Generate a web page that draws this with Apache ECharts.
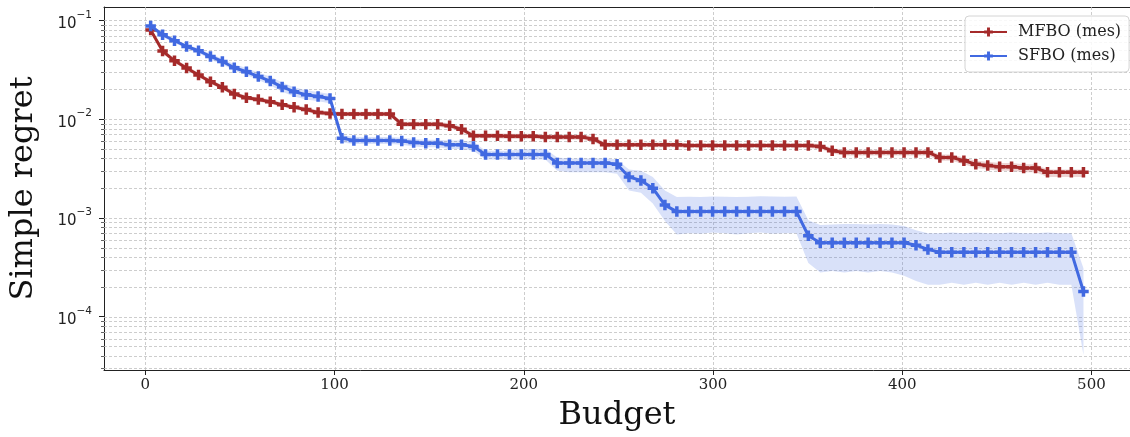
<!DOCTYPE html>
<html><head><meta charset="utf-8">
<script src="https://cdn.jsdelivr.net/npm/echarts@6/dist/echarts.min.js"></script>
<style>html,body{margin:0;padding:0;background:#fff}#c{width:1130px;height:437px}</style>
</head><body><div id="c"></div>
<script>
// ---- data ----
const budget = [2.8, 9.1, 15.4, 21.8, 28.1, 34.4, 40.7, 47.0, 53.4, 59.7,
  66.0, 72.3, 78.6, 85.0, 91.3, 97.6, 103.9, 110.2, 116.6, 122.9,
  129.2, 135.5, 141.8, 148.2, 154.5, 160.8, 167.1, 173.4, 179.8, 186.1,
  192.4, 198.7, 205.0, 211.4, 217.7, 224.0, 230.3, 236.6, 243.0, 249.3,
  255.6, 261.9, 268.2, 274.6, 280.9, 287.2, 293.5, 299.8, 306.2, 312.5,
  318.8, 325.1, 331.4, 337.8, 344.1, 350.4, 356.7, 363.0, 369.4, 375.7,
  382.0, 388.3, 394.6, 401.0, 407.3, 413.6, 419.9, 426.2, 432.6, 438.9,
  445.2, 451.5, 457.8, 464.2, 470.5, 476.8, 483.1, 489.4, 495.8];

const mfboMean = [0.080, 0.049, 0.039, 0.033, 0.028, 0.024, 0.021, 0.018, 0.0165, 0.0158,
  0.0150, 0.0140, 0.0132, 0.0125, 0.0117, 0.0114, 0.0113, 0.0113, 0.0113, 0.0113,
  0.0113, 0.0089, 0.0089, 0.0089, 0.0089, 0.0086, 0.0079, 0.0068, 0.0068, 0.0068,
  0.0067, 0.0067, 0.0067, 0.0066, 0.0066, 0.0066, 0.0066, 0.0063, 0.0055, 0.0055,
  0.0055, 0.0055, 0.0055, 0.0055, 0.0055, 0.0054, 0.0054, 0.0054, 0.0054, 0.0054,
  0.0054, 0.0054, 0.0054, 0.0054, 0.0054, 0.0054, 0.0053, 0.0048, 0.0046, 0.0046,
  0.0046, 0.0046, 0.0046, 0.0046, 0.0046, 0.0046, 0.0041, 0.0041, 0.0038, 0.0035,
  0.0034, 0.0033, 0.0033, 0.0032, 0.0032, 0.0029, 0.0029, 0.0029, 0.0029];
const mfboLow = [0.076, 0.0467, 0.0371, 0.0314, 0.0267, 0.0229, 0.0200, 0.0171, 0.0157, 0.0150,
  0.0143, 0.0133, 0.0126, 0.0119, 0.0111, 0.0108, 0.0107, 0.0107, 0.0107, 0.0107,
  0.0107, 0.0084, 0.0084, 0.0084, 0.0084, 0.0081, 0.0075, 0.0064, 0.0064, 0.0064,
  0.0063, 0.0063, 0.0063, 0.0062, 0.0062, 0.0062, 0.0062, 0.0059, 0.0052, 0.0052,
  0.0052, 0.0052, 0.0052, 0.0052, 0.0052, 0.0051, 0.0051, 0.0051, 0.0051, 0.0051,
  0.0051, 0.0051, 0.0051, 0.0051, 0.0051, 0.0051, 0.0050, 0.0045, 0.0043, 0.0043,
  0.0043, 0.0043, 0.0043, 0.0043, 0.0043, 0.0043, 0.0038, 0.0038, 0.0035, 0.0032,
  0.0031, 0.0030, 0.0030, 0.0029, 0.0029, 0.0026, 0.0026, 0.0026, 0.0026];
const mfboHigh = [0.084, 0.0515, 0.0410, 0.0347, 0.0294, 0.0252, 0.0221, 0.0189, 0.0174, 0.0166,
  0.0158, 0.0147, 0.0139, 0.0132, 0.0123, 0.0120, 0.0119, 0.0119, 0.0119, 0.0119,
  0.0119, 0.0094, 0.0094, 0.0094, 0.0094, 0.0091, 0.0084, 0.0072, 0.0072, 0.0072,
  0.0071, 0.0071, 0.0071, 0.0070, 0.0070, 0.0070, 0.0070, 0.0067, 0.0058, 0.0058,
  0.0058, 0.0058, 0.0058, 0.0058, 0.0058, 0.0057, 0.0057, 0.0057, 0.0057, 0.0057,
  0.0057, 0.0057, 0.0057, 0.0057, 0.0057, 0.0057, 0.0056, 0.0051, 0.0049, 0.0049,
  0.0049, 0.0049, 0.0049, 0.0049, 0.0049, 0.0049, 0.0044, 0.0044, 0.0041, 0.0038,
  0.0037, 0.0036, 0.0036, 0.0035, 0.0035, 0.0031, 0.0031, 0.0031, 0.0031];

const sfboMean = [0.0877, 0.0716, 0.0623, 0.0545, 0.0493, 0.0432, 0.0384, 0.0332, 0.0302, 0.0271,
  0.0243, 0.0212, 0.0190, 0.0177, 0.0170, 0.0162, 0.0064, 0.0061, 0.0061, 0.0061,
  0.0061, 0.0060, 0.0058, 0.0057, 0.0057, 0.0055, 0.0055, 0.0053, 0.0044, 0.0044,
  0.0044, 0.0044, 0.0044, 0.0044, 0.0036, 0.0036, 0.0036, 0.0036, 0.0036, 0.0035,
  0.0026, 0.0024, 0.0020, 0.00135, 0.00116, 0.00116, 0.00116, 0.00116, 0.00116, 0.00116,
  0.00116, 0.00116, 0.00116, 0.00116, 0.00116, 0.00066, 0.00056, 0.00056, 0.00056, 0.00056,
  0.00056, 0.00056, 0.00056, 0.00056, 0.00053, 0.00048, 0.00045, 0.00045, 0.00045, 0.00045,
  0.00045, 0.00045, 0.00045, 0.00045, 0.00045, 0.00045, 0.00045, 0.00045, 0.00018];
const sfboLow = [0.084, 0.068, 0.059, 0.052, 0.047, 0.040, 0.036, 0.031, 0.028, 0.025,
  0.022, 0.019, 0.017, 0.0158, 0.0152, 0.0145, 0.0058, 0.0056, 0.0056, 0.0056,
  0.0056, 0.0055, 0.0053, 0.0052, 0.0052, 0.0050, 0.0050, 0.0048, 0.0039, 0.0039,
  0.0039, 0.0039, 0.0039, 0.0039, 0.0030, 0.0029, 0.0029, 0.0029, 0.0029, 0.0028,
  0.0019, 0.0018, 0.0014, 0.00093, 0.00068, 0.00070, 0.00069, 0.00071, 0.00070, 0.00068,
  0.00070, 0.00071, 0.00069, 0.00070, 0.00070, 0.00035, 0.00028, 0.00029, 0.00028, 0.00029,
  0.00028, 0.00029, 0.00028, 0.00026, 0.00023, 0.00021, 0.00021, 0.00022, 0.00021, 0.00022,
  0.00021, 0.00022, 0.00021, 0.00022, 0.00021, 0.00022, 0.00021, 0.00021, 0.000041];
const sfboHigh = [0.092, 0.075, 0.065, 0.057, 0.052, 0.046, 0.041, 0.036, 0.033, 0.0295,
  0.027, 0.0235, 0.021, 0.0196, 0.0188, 0.0180, 0.0069, 0.0066, 0.0066, 0.0066,
  0.0066, 0.0065, 0.0063, 0.0062, 0.0062, 0.0061, 0.0061, 0.0059, 0.0048, 0.0048,
  0.0048, 0.0050, 0.0050, 0.0050, 0.0041, 0.0040, 0.0040, 0.0040, 0.0040, 0.0039,
  0.0031, 0.0030, 0.0026, 0.0019, 0.00163, 0.00164, 0.00163, 0.00165, 0.00164, 0.00163,
  0.00164, 0.00166, 0.00165, 0.00164, 0.00165, 0.00095, 0.00085, 0.00086, 0.00087, 0.00087,
  0.00086, 0.00087, 0.00086, 0.00083, 0.00075, 0.00070, 0.00070, 0.00071, 0.00070, 0.00071,
  0.00070, 0.00070, 0.00071, 0.00070, 0.00070, 0.00071, 0.00070, 0.00070, 0.00031];

const seriesNames = ['MFBO (mes)', 'SFBO (mes)'];
const xTicks = [0, 100, 200, 300, 400, 500];
const yMajorTicks = [1e-4, 1e-3, 1e-2, 1e-1];
const yTickExponents = ['\u22124', '\u22123', '\u22122', '\u22121'];
const yMinorTicks = [3e-5, 4e-5, 5e-5, 6e-5, 7e-5, 8e-5, 9e-5,
  2e-4, 3e-4, 4e-4, 5e-4, 6e-4, 7e-4, 8e-4, 9e-4,
  2e-3, 3e-3, 4e-3, 5e-3, 6e-3, 7e-3, 8e-3, 9e-3,
  2e-2, 3e-2, 4e-2, 5e-2, 6e-2, 7e-2, 8e-2, 9e-2];
const xRange = [-21.86, 520.4];
const yRange = [2.884e-5, 0.1368];

// ---- styling ----
const RED = '#a52a2a', BLUE = '#4169e1';
const SERIF = '"DejaVu Serif", serif';
const SANS = '"DejaVu Sans", sans-serif';
const AXIS_COLOR = '#222';
const plusPath = 'path://M3,0H6V3H9V6H6V9H3V6H0V3H3Z';

const chart = echarts.init(document.getElementById('c'), null, {renderer: 'canvas'});

function gridSeries() {
  return {
    type: 'custom', z: 1, silent: true, clip: false,
    data: [[xTicks[0], yMajorTicks[0]]],
    renderItem(params, api) {
      const cs = params.coordSys;
      const kids = [];
      const gstyle = {stroke: '#c0c0c0', lineWidth: 0.8, lineDash: [3, 2]};
      xTicks.forEach(t => {
        const x = Math.round(api.coord([t, yRange[0]])[0]) + 0.5;
        kids.push({type: 'line', shape: {x1: x, y1: cs.y, x2: x, y2: cs.y + cs.height}, style: gstyle});
      });
      yMajorTicks.concat(yMinorTicks).forEach(v => {
        const y = Math.round(api.coord([xRange[0], v])[1]) + 0.5;
        kids.push({type: 'line', shape: {x1: cs.x, y1: y, x2: cs.x + cs.width, y2: y}, style: gstyle});
      });
      yMinorTicks.forEach(v => {
        const y = Math.round(api.coord([xRange[0], v])[1]) + 0.5;
        kids.push({type: 'line', shape: {x1: cs.x - 3, y1: y, x2: cs.x, y2: y}, style: {stroke: AXIS_COLOR, lineWidth: 0.7}});
      });
      return {type: 'group', children: kids};
    }
  };
}

function bandSeries(lo, hi, color) {
  return {
    type: 'custom', z: 2, silent: true,
    data: [[budget[0], lo[0]]],
    renderItem(params, api) {
      const pts = [];
      for (let i = 0; i < budget.length; i++) pts.push(api.coord([budget[i], hi[i]]));
      for (let i = budget.length - 1; i >= 0; i--) pts.push(api.coord([budget[i], lo[i]]));
      return {type: 'polygon', shape: {points: pts}, style: {fill: color}};
    }
  };
}

function lineSeries(name, vals, color, z) {
  return {
    name, type: 'line', z,
    data: budget.map((x, i) => [x, vals[i]]),
    symbol: plusPath, symbolSize: 10.5, showSymbol: true,
    lineStyle: {color, width: 3},
    itemStyle: {color},
    emphasis: {disabled: true}
  };
}

chart.setOption({
  animation: false,
  backgroundColor: '#fff',
  grid: {left: 100, right: -1, top: 7, bottom: 67, show: false},
  legend: {
    data: seriesNames, orient: 'vertical', left: 965, top: 16,
    padding: [8, 8, 8, 4], itemGap: 8, itemWidth: 37, itemHeight: 11,
    borderColor: '#d4d4d4', borderWidth: 1, borderRadius: 4,
    backgroundColor: 'rgba(255,255,255,0.85)',
    textStyle: {fontFamily: SERIF, fontSize: 16, color: '#222', padding: [0, 0, 0, 6]}
  },
  xAxis: [{
    type: 'value', min: xRange[0], max: xRange[1],
    axisLine: {show: true, onZero: false, lineStyle: {color: AXIS_COLOR, width: 1}},
    axisTick: {show: true, length: 5, lineStyle: {color: AXIS_COLOR, width: 1}, customValues: xTicks},
    axisLabel: {customValues: xTicks, fontFamily: SERIF, fontSize: 15, color: '#222', margin: 8},
    splitLine: {show: false},
    name: 'Budget', nameLocation: 'middle', nameGap: 30,
    nameTextStyle: {fontFamily: SERIF, fontSize: 32, color: '#111'}
  }, {
    type: 'value', position: 'top', min: xRange[0], max: xRange[1],
    axisLine: {show: true, onZero: false, lineStyle: {color: AXIS_COLOR, width: 1}},
    axisTick: {show: false}, axisLabel: {show: false}, splitLine: {show: false}
  }],
  yAxis: {
    type: 'log', logBase: 10, min: yRange[0], max: yRange[1],
    axisLine: {show: true, onZero: false, lineStyle: {color: AXIS_COLOR, width: 1}},
    axisTick: {show: true, length: 5, lineStyle: {color: AXIS_COLOR, width: 1}, customValues: yMajorTicks},
    axisLabel: {
      customValues: yMajorTicks, color: '#222', margin: 12,
      formatter: v => {
        const i = yMajorTicks.findIndex(t => Math.abs(Math.log10(t) - Math.log10(v)) < 0.01);
        return i >= 0 ? '{b|10}{s|' + yTickExponents[i] + '}' : '';
      },
      rich: {
        b: {fontFamily: SANS, fontSize: 15, color: '#222', lineHeight: 22, verticalAlign: 'bottom'},
        s: {fontFamily: SANS, fontSize: 10.5, color: '#222', lineHeight: 12, verticalAlign: 'top'}
      }
    },
    splitLine: {show: false},
    name: 'Simple regret', nameLocation: 'middle', nameRotate: 90, nameGap: 64,
    nameTextStyle: {fontFamily: SERIF, fontSize: 32, color: '#111'}
  },
  series: [
    gridSeries(),
    bandSeries(mfboLow, mfboHigh, 'rgba(165,42,42,0.2)'),
    bandSeries(sfboLow, sfboHigh, 'rgba(65,105,225,0.2)'),
    lineSeries(seriesNames[0], mfboMean, RED, 3),
    lineSeries(seriesNames[1], sfboMean, BLUE, 4)
  ]
});
</script>
</body></html>
